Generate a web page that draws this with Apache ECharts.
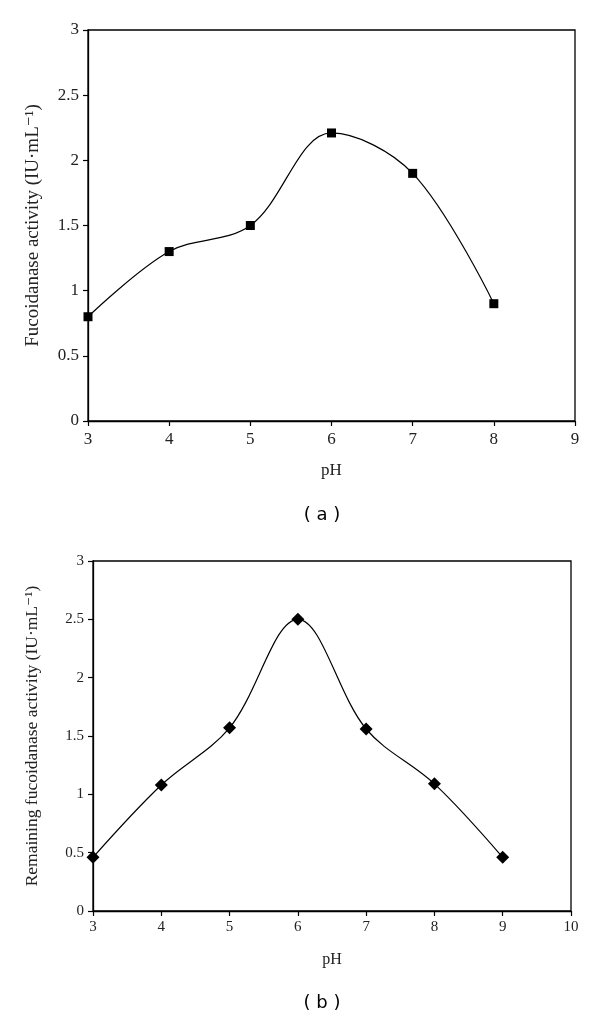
<!DOCTYPE html>
<html><head><meta charset="utf-8">
<script src="https://cdn.jsdelivr.net/npm/echarts@6/dist/echarts.min.js"></script>
<style>html,body{margin:0;padding:0;background:#fff}#c{width:600px;height:1019px}</style>
</head><body><div id="c"></div>
<script>
const phA = [3, 4, 5, 6, 7, 8];
const activityA = [0.8, 1.3, 1.5, 2.21, 1.9, 0.9];
const phB = [3, 4, 5, 6, 7, 8, 9];
const activityB = [0.46, 1.08, 1.57, 2.5, 1.56, 1.09, 0.46];

const serif = '"Liberation Serif", "DejaVu Serif", serif';
const axisCommon = {
  axisLine: {show: true, lineStyle: {color: '#000', width: 1.3}},
  axisTick: {show: true, inside: false, length: 5, lineStyle: {color: '#000', width: 1.2}},
  splitLine: {show: false},
  axisLabel: {color: '#222', fontFamily: serif, fontSize: 17},
  nameTextStyle: {color: '#222', fontFamily: serif, fontSize: 17}
};
const chart = echarts.init(document.getElementById('c'));
chart.setOption({
  animation: false,
  grid: [
    {left: 88, top: 30, right: 25, bottom: 598, show: true, borderColor: '#000', borderWidth: 1.3},
    {left: 93, top: 561, right: 29, bottom: 108, show: true, borderColor: '#000', borderWidth: 1.3}
  ],
  xAxis: [
    Object.assign({}, axisCommon, {gridIndex: 0, type: 'value', min: 3, max: 9, interval: 1,
      name: 'pH', nameLocation: 'middle', nameGap: 41,
      axisLabel: Object.assign({}, axisCommon.axisLabel, {margin: 10})}),
    Object.assign({}, axisCommon, {gridIndex: 1, type: 'value', min: 3, max: 10, interval: 1,
      name: 'pH', nameLocation: 'middle', nameGap: 41,
      nameTextStyle: Object.assign({}, axisCommon.nameTextStyle, {fontSize: 16}),
      axisLabel: Object.assign({}, axisCommon.axisLabel, {fontSize: 15, margin: 9})})
  ],
  yAxis: [
    Object.assign({}, axisCommon, {gridIndex: 0, type: 'value', min: 0, max: 3, interval: 0.5,
      name: 'Fucoidanase activity (IU·mL⁻¹)', nameLocation: 'middle', nameGap: 45,
      nameTextStyle: Object.assign({}, axisCommon.nameTextStyle, {fontSize: 19}),
      axisLabel: Object.assign({}, axisCommon.axisLabel, {margin: 9, formatter: v => String(v)})}),
    Object.assign({}, axisCommon, {gridIndex: 1, type: 'value', min: 0, max: 3, interval: 0.5,
      name: 'Remaining fucoidanase activity (IU·mL⁻¹)', nameLocation: 'middle', nameGap: 52,
      nameTextStyle: Object.assign({}, axisCommon.nameTextStyle, {fontSize: 17.5}),
      axisLabel: Object.assign({}, axisCommon.axisLabel, {fontSize: 15, margin: 9, formatter: v => String(v)})})
  ],
  graphic: [
    {type: 'text', x: 322, y: 515, style: {text: '( a )', font: '18px "DejaVu Sans", sans-serif', fill: '#000', align: 'center', verticalAlign: 'middle'}},
    {type: 'text', x: 322, y: 1003, style: {text: '( b )', font: '18px "DejaVu Sans", sans-serif', fill: '#000', align: 'center', verticalAlign: 'middle'}}
  ],
  series: [
    {type: 'line', xAxisIndex: 0, yAxisIndex: 0, smooth: 0.35,
      data: phA.map((x, i) => [x, activityA[i]]),
      symbol: 'rect', symbolSize: 9,
      itemStyle: {color: '#000'}, lineStyle: {color: '#000', width: 1.2}},
    {type: 'line', xAxisIndex: 1, yAxisIndex: 1, smooth: 0.35,
      data: phB.map((x, i) => [x, activityB[i]]),
      symbol: 'diamond', symbolSize: 13,
      itemStyle: {color: '#000'}, lineStyle: {color: '#000', width: 1.2}}
  ]
});
</script></body></html>
